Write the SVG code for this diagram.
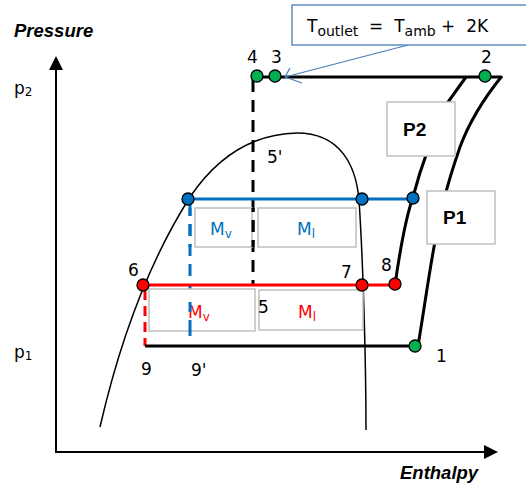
<svg xmlns="http://www.w3.org/2000/svg" width="526" height="484" viewBox="0 0 526 484">
<style>
.t{font-family:"DejaVu Sans",Verdana,sans-serif;font-size:17px;fill:#000}
.ax{font-family:"Liberation Sans",Arial,sans-serif;font-size:18.5px;font-weight:bold;font-style:italic}
.box{fill:#fff;stroke:#bfbfbf;stroke-width:1.5}
.pb{font-family:"Liberation Sans",Arial,sans-serif;font-size:19px;font-weight:bold}
.g{fill:#00b050;stroke:#000;stroke-width:1.3}
.b{fill:#0070c0;stroke:#000;stroke-width:1.3}
.r{fill:#ff0000;stroke:#000;stroke-width:1.3}
.thick{stroke:#000;stroke-width:3;fill:none}
.blue{fill:#0070c0}
.red{fill:#ff0000}
</style>
<rect width="526" height="484" fill="#fff"/>
<g id="axes">
<line x1="56" y1="452" x2="56" y2="68" stroke="#000" stroke-width="2"/>
<polygon points="56,56 49,70 63,70" fill="#000"/>
<line x1="55" y1="452" x2="486" y2="452" stroke="#000" stroke-width="2"/>
<polygon points="498,452 484,445 484,459" fill="#000"/>
<text class="ax" x="14" y="37">Pressure</text>
<text class="ax" x="400" y="479">Enthalpy</text>
<text class="t" x="14" y="94">p<tspan font-size="12" dy="2">2</tspan></text>
<text class="t" x="14" y="358">p<tspan font-size="12" dy="2">1</tspan></text>
</g>
<g id="dome">
<path d="M100,427 C120,340 150,260 190,197 C215,160 250,134 297,133 C340,133 356,165 359,200 C363,260 366,360 366,430" fill="none" stroke="#000" stroke-width="1.5"/>
</g>
<g id="connectors">
<path class="thick" d="M253,77 H500"/>
<path class="thick" d="M253,80 V285" stroke-dasharray="12,8"/>
<path d="M190,204 V336" stroke="#0070c0" stroke-width="3" stroke-dasharray="12,8" fill="none"/>
<path d="M145,290 V346" stroke="#ff0000" stroke-width="3" stroke-dasharray="10,6" fill="none"/>
<path class="thick" d="M145,346 H417"/>
<path d="M188,199 H412" stroke="#0070c0" stroke-width="3" fill="none"/>
<path d="M143,285 H395" stroke="#ff0000" stroke-width="3" fill="none"/>
<path class="thick" d="M395,285 C400,250 405,220 413,197 C420,170 430,140 448,102 L466,77"/>
<path class="thick" d="M418,346 C424,310 428,280 434,247 C440,215 445,190 460,147 C470,120 485,97 502,76"/>
<line x1="408" y1="45" x2="285" y2="77" stroke="#4a7ebb" stroke-width="1.2"/>
<polyline points="290,68 285,77 302,83" fill="none" stroke="#4a7ebb" stroke-width="1.2"/>
</g>
<g id="callout">
<rect x="292" y="5" width="240" height="40" fill="#fff" stroke="#4a7ebb" stroke-width="1.3"/>
<text class="t" x="307" y="32" font-size="19">T<tspan font-size="14" dy="4">outlet</tspan><tspan dy="-4" xml:space="preserve">  =  T</tspan><tspan font-size="14" dy="4">amb</tspan><tspan dy="-4" xml:space="preserve"> +  2K</tspan></text>
</g>
<g id="box-mv-blue"><rect class="box" x="195" y="208" width="57" height="39"/><text class="t blue" x="210" y="235" font-size="17">M<tspan font-size="12" dy="3">v</tspan></text></g>
<g id="box-ml-blue"><rect class="box" x="258" y="208" width="98" height="39"/><text class="t blue" x="297" y="235" font-size="17">M<tspan font-size="12" dy="3">l</tspan></text></g>
<g id="box-mv-red"><rect class="box" x="149" y="289" width="106" height="42"/><text class="t red" x="188" y="318" font-size="17">M<tspan font-size="12" dy="3">v</tspan></text></g>
<g id="box-ml-red"><rect class="box" x="259" y="290" width="104" height="40"/><text class="t red" x="298" y="318" font-size="17">M<tspan font-size="12" dy="3">l</tspan></text></g>
<g id="box-p2"><rect class="box" x="387" y="102" width="68" height="54"/><text class="pb" x="403" y="136">P2</text></g>
<g id="box-p1"><rect class="box" x="427" y="191" width="68" height="53"/><text class="pb" x="443" y="224">P1</text></g>
<g id="dash-overlay">
<path d="M190,302 V336" stroke="#0070c0" stroke-width="3" stroke-dasharray="12,8" stroke-dashoffset="2" fill="none"/>
<path d="M253,208 V247" stroke="#000" stroke-width="3" stroke-dasharray="12,8" stroke-dashoffset="8" fill="none"/>
<path d="M190,208 V247" stroke="#0070c0" stroke-width="3" stroke-dasharray="12,8" stroke-dashoffset="4" fill="none"/>
</g>
<g id="n4"><circle class="g" cx="257" cy="76" r="6"/><text class="t" x="247" y="63">4</text></g>
<g id="n3"><circle class="g" cx="275" cy="76" r="6"/><text class="t" x="271" y="63">3</text></g>
<g id="n2"><circle class="g" cx="485" cy="76" r="6"/><text class="t" x="481" y="63">2</text></g>
<g id="n1"><circle class="g" cx="415" cy="346" r="6"/><text class="t" x="436" y="362">1</text></g>
<g id="nb1"><circle class="b" cx="188" cy="199" r="6"/></g>
<g id="nb2"><circle class="b" cx="362" cy="199" r="6"/></g>
<g id="nb3"><circle class="b" cx="413" cy="198" r="6"/></g>
<g id="n6"><circle class="r" cx="143" cy="285" r="6"/><text class="t" x="128" y="276">6</text></g>
<g id="n7"><circle class="r" cx="362" cy="285" r="6"/><text class="t" x="341" y="278">7</text></g>
<g id="n8"><circle class="r" cx="395" cy="284" r="6"/><text class="t" x="381" y="271">8</text></g>
<g id="n5"><text class="t" x="258" y="313">5</text></g>
<g id="n5p"><text class="t" x="267" y="163">5'</text></g>
<g id="n9"><text class="t" x="141" y="375">9</text></g>
<g id="n9p"><text class="t" x="191" y="376">9'</text></g>
</svg>
